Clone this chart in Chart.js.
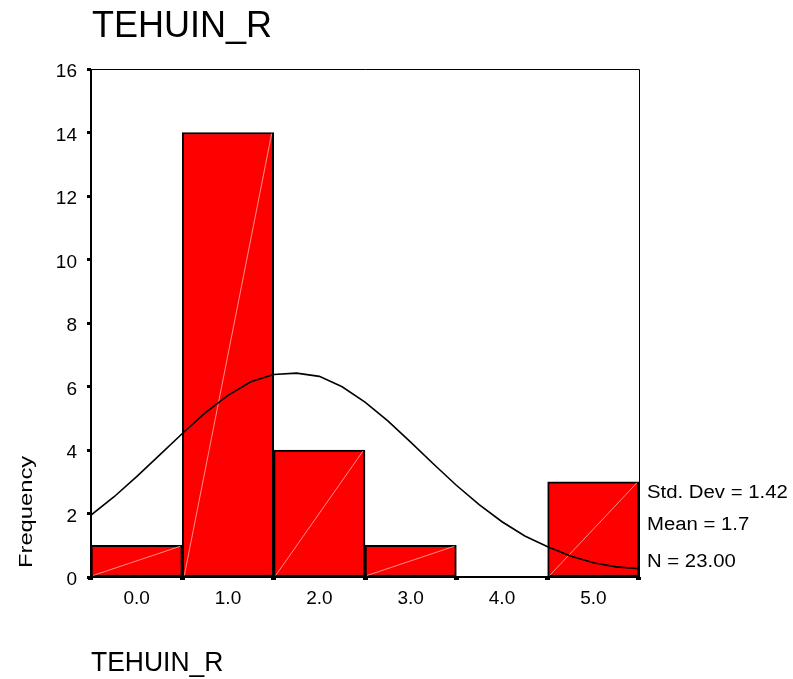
<!DOCTYPE html>
<html>
<head>
<meta charset="utf-8">
<script src="https://cdn.jsdelivr.net/npm/chart.js@4.4.1/dist/chart.umd.min.js"></script>
<style>
    html, body { margin: 0; padding: 0; background: #fff; }
    #wrap { position: relative; width: 793px; height: 679px; }
</style>
</head>
<body>
<div id="wrap"><canvas id="histChart" width="793" height="679"></canvas></div>
<script>
/* ============================================
   DATA
============================================ */
const binCenters = [0, 1, 2, 3, 4, 5];
const frequencies = [1, 14, 4, 1, 0, 3];
const xTickLabels = ['0.0', '1.0', '2.0', '3.0', '4.0', '5.0'];
const yTickValues = [0, 2, 4, 6, 8, 10, 12, 14, 16];

// normal curve, every 0.25
const curveX = [-0.5, -0.25, 0, 0.25, 0.5, 0.75, 1, 1.25, 1.5, 1.75, 2, 2.25, 2.5,
                2.75, 3, 3.25, 3.5, 3.75, 4, 4.25, 4.5, 4.75, 5, 5.25, 5.5];
const curveY = [1.95, 2.52, 3.16, 3.84, 4.52, 5.17, 5.72, 6.15, 6.38, 6.42, 6.32, 5.99, 5.51,
                4.92, 4.25, 3.56, 2.89, 2.28, 1.74, 1.29, 0.95, 0.66, 0.45, 0.32, 0.26];

const statLines = ['Std. Dev = 1.42', 'Mean = 1.7', 'N = 23.00'];
const chartTitle = 'TEHUIN_R';
const xTitle = 'TEHUIN_R';
const yTitle = 'Frequency';

/* ============================================
   PLUGINS
============================================ */
const FONT = "'Liberation Sans', Arial, sans-serif";

const barDiagonals = {
    id: 'barDiagonals',
    afterDatasetDraw(chart, args) {
        if (args.index !== 1) return;
        const ctx = chart.ctx;
        ctx.save();
        ctx.strokeStyle = 'rgba(255,190,190,0.75)';
        ctx.lineWidth = 1;
        args.meta.data.forEach(bar => {
            const p = bar.getProps(['x', 'y', 'base', 'width'], true);
            if (Math.abs(p.base - p.y) < 1) return;
            ctx.beginPath();
            ctx.moveTo(p.x - p.width / 2 + 2, p.base - 1);
            ctx.lineTo(p.x + p.width / 2 - 2, p.y + 1);
            ctx.stroke();
        });
        ctx.restore();
    }
};

const frameAndText = {
    id: 'frameAndText',
    afterDraw(chart) {
        const ctx = chart.ctx;
        const a = chart.chartArea;
        ctx.save();
        ctx.strokeStyle = '#000';
        // top + right thin
        ctx.lineWidth = 1;
        ctx.beginPath();
        ctx.moveTo(a.left, a.top + 0.5);
        ctx.lineTo(a.right + 0.5, a.top + 0.5);
        ctx.lineTo(a.right + 0.5, a.bottom);
        ctx.stroke();
        // left + bottom thick
        ctx.lineWidth = 2;
        ctx.beginPath();
        ctx.moveTo(a.left, a.top);
        ctx.lineTo(a.left, a.bottom);
        ctx.lineTo(a.right + 1, a.bottom);
        ctx.stroke();

        ctx.fillStyle = '#000';
        ctx.textBaseline = 'alphabetic';
        ctx.textAlign = 'left';

        ctx.font = '36px ' + FONT;
        ctx.fillText(chartTitle, 92, 37);

        ctx.save();
        ctx.translate(91, 671);
        ctx.scale(0.98, 1);
        ctx.font = '27px ' + FONT;
        ctx.fillText(xTitle, 0, 0);
        ctx.restore();

        ctx.save();
        ctx.translate(32, 568);
        ctx.rotate(-Math.PI / 2);
        ctx.scale(1.25, 1);
        ctx.font = '19px ' + FONT;
        ctx.fillText(yTitle, 0, 0);
        ctx.restore();

        const statY = [498, 530, 567];
        statLines.forEach((t, i) => {
            ctx.save();
            ctx.translate(647, statY[i]);
            ctx.scale(1.13, 1);
            ctx.font = '18px ' + FONT;
            ctx.fillText(t, 0, 0);
            ctx.restore();
        });
        ctx.restore();
    }
};

/* ============================================
   CHART
============================================ */
function initHistogram() {
    const canvas = document.getElementById('histChart');
    if (!canvas) return;

    new Chart(canvas.getContext('2d'), {
        data: {
            datasets: [
                {
                    type: 'line',
                    data: curveX.map((x, i) => ({ x: x, y: curveY[i] })),
                    borderColor: '#000',
                    borderWidth: 1.6,
                    pointRadius: 0,
                    tension: 0,
                    order: 0
                },
                {
                    type: 'bar',
                    data: binCenters.map((x, i) => ({ x: x, y: frequencies[i] })),
                    backgroundColor: '#ff0000',
                    borderColor: '#000',
                    borderWidth: 2,
                    borderSkipped: false,
                    barPercentage: 1,
                    categoryPercentage: 1,
                    order: 1
                }
            ]
        },
        options: {
            responsive: false,
            animation: false,
            layout: { padding: { left: 0, top: 69, right: 154, bottom: 0 } },
            plugins: {
                legend: { display: false },
                tooltip: { enabled: false },
                title: { display: false }
            },
            scales: {
                x: {
                    type: 'linear',
                    min: -0.5,
                    max: 5.5,
                    offset: false,
                    afterBuildTicks: s => {
                        s.ticks = binCenters.map(v => ({ value: v }));
                    },
                    afterFit: s => { s.height = 102; },
                    grid: {
                        drawOnChartArea: false,
                        drawTicks: true,
                        tickLength: 3,
                        tickWidth: 5,
                        tickColor: '#000'
                    },
                    border: { display: false },
                    ticks: {
                        color: '#000',
                        padding: 7,
                        maxRotation: 0,
                        font: { family: FONT, size: 19 },
                        callback: (v, i) => xTickLabels[i]
                    }
                },
                y: {
                    min: 0,
                    max: 16,
                    afterBuildTicks: s => {
                        s.ticks = yTickValues.map(v => ({ value: v }));
                    },
                    afterFit: s => { s.width = 91; },
                    grid: {
                        drawOnChartArea: false,
                        drawTicks: true,
                        tickLength: 4,
                        tickWidth: 3,
                        tickColor: '#000'
                    },
                    border: { display: false },
                    ticks: {
                        color: '#000',
                        padding: 10,
                        labelOffset: 3,
                        font: { family: FONT, size: 19 }
                    }
                }
            }
        },
        plugins: [barDiagonals, frameAndText]
    });
}

document.addEventListener('DOMContentLoaded', initHistogram);
</script>
</body>
</html>
